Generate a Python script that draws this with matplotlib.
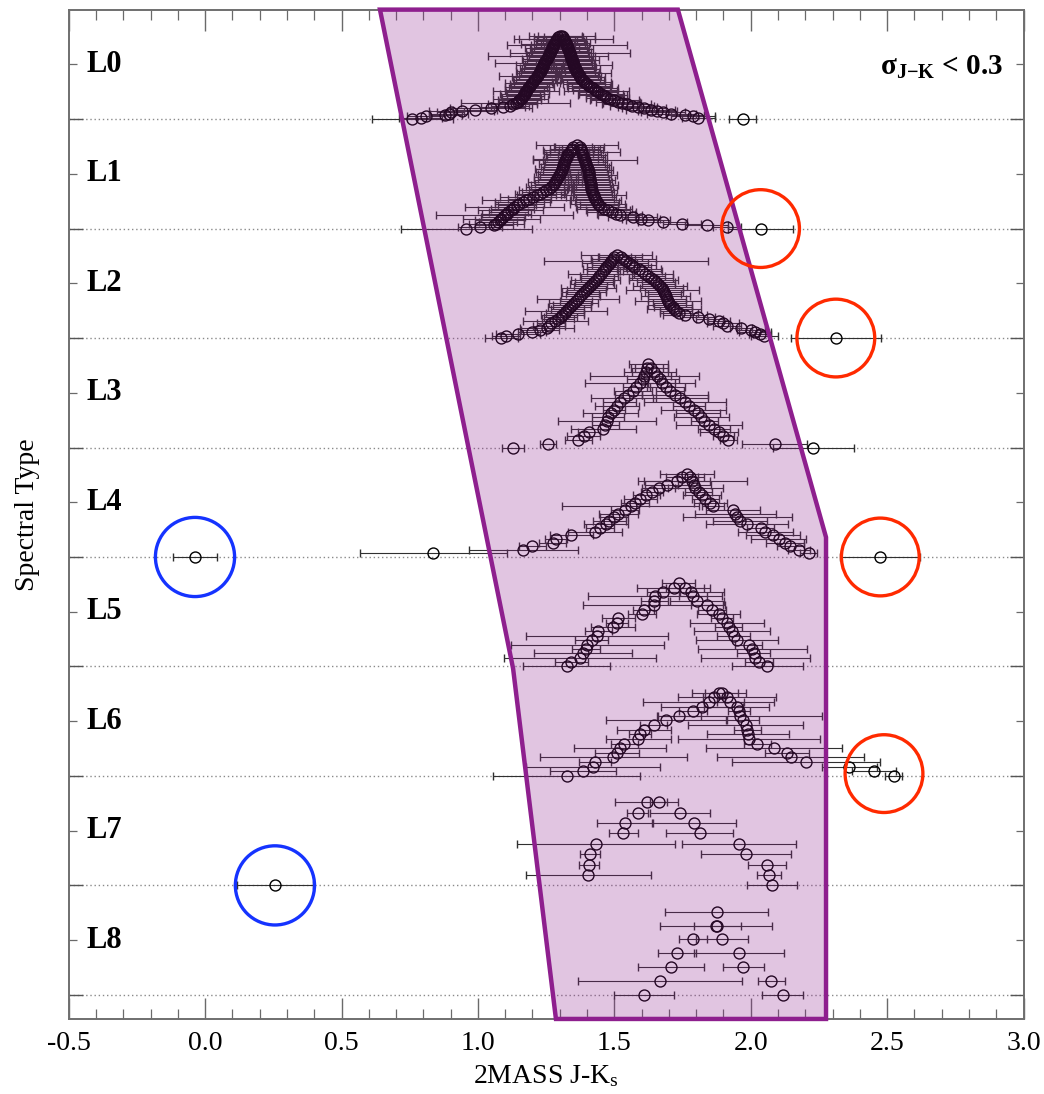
import numpy as np
import matplotlib
matplotlib.use("Agg")
import matplotlib.pyplot as plt
from matplotlib.patches import Polygon
from matplotlib.ticker import MultipleLocator, FormatStrFormatter
from matplotlib.transforms import blended_transform_factory

plt.rcParams['font.family'] = ['Liberation Serif', 'DejaVu Serif']
plt.rcParams['mathtext.fontset'] = 'custom'
plt.rcParams['mathtext.rm'] = 'Liberation Serif'
plt.rcParams['mathtext.it'] = 'Liberation Serif:italic'
plt.rcParams['mathtext.bf'] = 'Liberation Serif:bold'
plt.rcParams['axes.unicode_minus'] = False

# ---------------------------------------------------------------------------
# Data: 2MASS J-Ks colours (and uncertainties) per optical spectral type
# ---------------------------------------------------------------------------
spectral_types = ['L0', 'L1', 'L2', 'L3', 'L4', 'L5', 'L6', 'L7', 'L8']

jk_L0 = [0.76, 0.79, 0.81, 0.88, 0.895, 0.90, 0.94, 0.99, 1.048, 1.093,
         1.117, 1.128, 1.138, 1.146, 1.152, 1.157, 1.160, 1.164, 1.168, 1.171,
         1.174, 1.177, 1.180, 1.184, 1.188, 1.192, 1.196, 1.200, 1.203, 1.207,
         1.211, 1.215, 1.218, 1.222, 1.225, 1.228, 1.230, 1.233, 1.235, 1.238,
         1.240, 1.242, 1.244, 1.247, 1.250, 1.253, 1.256, 1.258, 1.261, 1.264,
         1.266, 1.268, 1.270, 1.272, 1.274, 1.276, 1.279, 1.282, 1.285, 1.287,
         1.291, 1.295,
         1.300, 1.309, 1.311, 1.314, 1.317, 1.319, 1.322, 1.324, 1.326, 1.328,
         1.330, 1.331, 1.333, 1.335, 1.336, 1.338, 1.340, 1.342, 1.343, 1.345,
         1.347, 1.348, 1.350, 1.352, 1.354, 1.356, 1.359, 1.361, 1.364, 1.367,
         1.370, 1.373, 1.376, 1.379, 1.384, 1.389, 1.395, 1.401, 1.408, 1.415,
         1.422, 1.428, 1.435, 1.442, 1.450, 1.458, 1.466, 1.475, 1.485, 1.500,
         1.514, 1.529, 1.546, 1.565, 1.585, 1.608, 1.633, 1.658, 1.678, 1.708,
         1.758, 1.788, 1.808, 1.971]
err_L0 = [0.15, 0.08, 0.07, 0.06, 0.07, 0.05, 0.12, 0.08, 0.15, 0.08,
          0.07, 0.09, 0.20, 0.07, 0.08, 0.10, 0.07, 0.08, 0.06, 0.09,
          0.07, 0.12, 0.08, 0.07, 0.09, 0.07, 0.08, 0.10, 0.07, 0.08,
          0.07, 0.09, 0.14, 0.07, 0.08, 0.07, 0.09, 0.07, 0.08, 0.07,
          0.10, 0.07, 0.18, 0.08, 0.07, 0.09, 0.07, 0.22, 0.08, 0.07,
          0.09, 0.07, 0.08, 0.10, 0.07, 0.08, 0.12, 0.07, 0.08, 0.07,
          0.14, 0.09,
          0.08, 0.12, 0.07, 0.18, 0.08, 0.07, 0.09, 0.07, 0.22, 0.08,
          0.07, 0.09, 0.07, 0.08, 0.22, 0.07, 0.09, 0.08, 0.07, 0.10,
          0.07, 0.08, 0.07, 0.14, 0.08, 0.07, 0.09, 0.07, 0.08, 0.12,
          0.07, 0.08, 0.09, 0.07, 0.08, 0.10, 0.07, 0.09, 0.08, 0.07,
          0.09, 0.08, 0.12, 0.07, 0.08, 0.09, 0.07, 0.08, 0.07, 0.09,
          0.08, 0.07, 0.09, 0.08, 0.07, 0.08, 0.09, 0.07, 0.08, 0.09,
          0.07, 0.08, 0.06, 0.05]

jk_L1 = [0.957, 1.008, 1.058, 1.068, 1.073, 1.080, 1.086, 1.092, 1.098, 1.105,
         1.112, 1.120, 1.127, 1.134, 1.143, 1.152, 1.164, 1.176, 1.189, 1.202,
         1.215, 1.227, 1.240, 1.250, 1.259, 1.268, 1.274, 1.278, 1.283, 1.287,
         1.290, 1.294, 1.297, 1.300, 1.304, 1.307, 1.309, 1.311, 1.313, 1.315,
         1.317, 1.319, 1.322, 1.325, 1.328, 1.331, 1.336, 1.340, 1.345, 1.350,
         1.363,
         1.374, 1.377, 1.379, 1.381, 1.383, 1.385, 1.386, 1.388, 1.392, 1.394,
         1.396, 1.398, 1.401, 1.403, 1.405, 1.406, 1.407, 1.408, 1.409, 1.410,
         1.411, 1.412, 1.413, 1.414, 1.415, 1.416, 1.418, 1.420, 1.422, 1.424,
         1.427, 1.430, 1.433, 1.436, 1.439, 1.444, 1.451, 1.464, 1.478, 1.491,
         1.506, 1.521, 1.568, 1.598, 1.623, 1.678, 1.748, 1.838, 1.913, 2.036]
err_L1 = [0.24, 0.08, 0.07, 0.10, 0.07, 0.09, 0.14, 0.08, 0.25, 0.09,
          0.07, 0.12, 0.08, 0.18, 0.07, 0.09, 0.10, 0.16, 0.08, 0.12,
          0.07, 0.09, 0.08, 0.10, 0.07, 0.09, 0.08, 0.07, 0.10, 0.08,
          0.07, 0.09, 0.07, 0.08, 0.09, 0.07, 0.10, 0.08, 0.07, 0.09,
          0.07, 0.08, 0.12, 0.07, 0.08, 0.09, 0.07, 0.10, 0.08, 0.07,
          0.15,
          0.09, 0.07, 0.08, 0.14, 0.07, 0.09, 0.08, 0.07, 0.19, 0.08,
          0.07, 0.09, 0.08, 0.07, 0.09, 0.08, 0.07, 0.10, 0.08, 0.07,
          0.09, 0.08, 0.07, 0.10, 0.08, 0.07, 0.09, 0.08, 0.07, 0.12,
          0.08, 0.07, 0.09, 0.08, 0.10, 0.07, 0.09, 0.10, 0.08, 0.09,
          0.07, 0.08, 0.09, 0.07, 0.08, 0.09, 0.07, 0.08, 0.05, 0.12]

jk_L2 = [1.086, 1.103, 1.148, 1.198, 1.228, 1.253, 1.261, 1.268, 1.284, 1.294,
         1.303, 1.310, 1.318, 1.324, 1.329, 1.336, 1.344, 1.352, 1.360, 1.368,
         1.376, 1.383, 1.390, 1.398, 1.405, 1.412, 1.419, 1.426, 1.432, 1.439,
         1.445, 1.452, 1.459, 1.466, 1.471, 1.477, 1.483, 1.489, 1.495, 1.500,
         1.508,
         1.523, 1.533, 1.543, 1.553, 1.563, 1.573, 1.591, 1.603, 1.614, 1.624,
         1.634, 1.645, 1.653, 1.661, 1.667, 1.673, 1.677, 1.681, 1.685, 1.689,
         1.693, 1.697, 1.701, 1.705, 1.714, 1.719, 1.726, 1.736, 1.760, 1.808,
         1.848, 1.883, 1.898, 1.913, 1.963, 2.001, 2.016, 2.033, 2.050, 2.312]
err_L2 = [0.06, 0.05, 0.08, 0.05, 0.07, 0.10, 0.06, 0.05, 0.12, 0.06,
          0.06, 0.08, 0.07, 0.15, 0.06, 0.08, 0.07, 0.09, 0.06, 0.15,
          0.07, 0.06, 0.08, 0.07, 0.10, 0.06, 0.08, 0.07, 0.09, 0.06,
          0.07, 0.12, 0.06, 0.08, 0.07, 0.06, 0.10, 0.07, 0.08, 0.06,
          0.13,
          0.08, 0.12, 0.30, 0.07, 0.09, 0.06, 0.08, 0.07, 0.10, 0.06,
          0.08, 0.09, 0.07, 0.06, 0.10, 0.08, 0.135, 0.07, 0.06, 0.09,
          0.07, 0.12, 0.06, 0.08, 0.07, 0.10, 0.06, 0.07, 0.08, 0.06,
          0.05, 0.04, 0.06, 0.05, 0.04, 0.05, 0.06, 0.04, 0.05, 0.165]

jk_L3 = [1.129, 1.258, 1.368, 1.388, 1.408, 1.460, 1.467, 1.472, 1.477, 1.487,
         1.498, 1.509, 1.519, 1.534, 1.551, 1.567, 1.581, 1.594, 1.605, 1.610,
         1.615, 1.620,
         1.625,
         1.636, 1.646, 1.658, 1.666, 1.674, 1.688, 1.704, 1.723, 1.742, 1.759,
         1.774, 1.791, 1.806, 1.819, 1.830, 1.847, 1.865, 1.884, 1.900, 1.918,
         2.088, 2.230]
err_L3 = [0.04, 0.03, 0.05, 0.06, 0.04, 0.12, 0.05, 0.18, 0.06, 0.10,
          0.04, 0.08, 0.06, 0.12, 0.05, 0.07, 0.05, 0.20, 0.06, 0.20,
          0.08, 0.06,
          0.07,
          0.06, 0.08, 0.05, 0.07, 0.05, 0.07, 0.05, 0.12, 0.10, 0.15,
          0.06, 0.12, 0.08, 0.10, 0.05, 0.12, 0.06, 0.07, 0.04, 0.03,
          0.12, 0.15]

jk_L4 = [-0.037, 0.837, 1.166, 1.200, 1.274, 1.286, 1.343, 1.429, 1.448, 1.470,
         1.482, 1.499, 1.515, 1.539, 1.560, 1.576, 1.595, 1.617, 1.637, 1.662,
         1.693, 1.729, 1.748,
         1.766,
         1.778, 1.785, 1.793, 1.797, 1.809, 1.821, 1.834, 1.852, 1.862, 1.935,
         1.944, 1.950, 1.960, 1.987, 2.036, 2.054, 2.082, 2.102, 2.127, 2.145,
         2.176, 2.212, 2.475]
err_L4 = [0.08, 0.27, 0.20, 0.05, 0.05, 0.04, 0.08, 0.10, 0.05, 0.08,
          0.06, 0.05, 0.07, 0.05, 0.25, 0.05, 0.06, 0.05, 0.04, 0.06,
          0.08, 0.12, 0.06,
          0.10,
          0.05, 0.20, 0.06, 0.10, 0.05, 0.07, 0.05, 0.06, 0.04, 0.10,
          0.15, 0.20, 0.10, 0.15, 0.05, 0.10, 0.10, 0.10, 0.07, 0.05,
          0.04, 0.03, 0.147]

jk_L5 = [1.325, 1.343, 1.374, 1.386, 1.396, 1.401, 1.417, 1.435, 1.441, 1.496,
         1.509, 1.515, 1.601, 1.607, 1.644, 1.646, 1.650, 1.680, 1.717,
         1.736,
         1.760, 1.781, 1.788, 1.803, 1.840, 1.858, 1.882, 1.895, 1.913, 1.919,
         1.932, 1.938, 1.950, 1.993, 2.005, 2.011, 2.017, 2.030, 2.060]
err_L5 = [0.16, 0.06, 0.28, 0.18, 0.05, 0.28, 0.06, 0.26, 0.05, 0.08,
          0.04, 0.06, 0.05, 0.04, 0.26, 0.05, 0.245, 0.06, 0.135,
          0.06,
          0.07, 0.12, 0.05, 0.10, 0.06, 0.05, 0.08, 0.04, 0.135, 0.05,
          0.14, 0.06, 0.15, 0.05, 0.20, 0.06, 0.20, 0.05, 0.13]

jk_L6 = [1.325, 1.386, 1.423, 1.429, 1.496, 1.509, 1.521, 1.536, 1.588, 1.595,
         1.609, 1.644, 1.689, 1.738, 1.788, 1.821, 1.846, 1.864, 1.883,
         1.893, 1.913, 1.925, 1.948, 1.956, 1.960, 1.972, 1.981, 1.987, 1.989,
         1.993, 2.024, 2.085, 2.134, 2.147, 2.203, 2.362, 2.453, 2.524]
err_L6 = [0.27, 0.12, 0.245, 0.06, 0.27, 0.08, 0.17, 0.05, 0.12, 0.04,
          0.10, 0.05, 0.22, 0.08, 0.05, 0.15, 0.24, 0.04, 0.10,
          0.06, 0.18, 0.05, 0.12, 0.04, 0.30, 0.06, 0.21, 0.05, 0.15,
          0.26, 0.05, 0.25, 0.08, 0.27, 0.27, 0.10, 0.08, 0.03]

jk_L7 = [0.256, 1.405, 1.408, 1.411, 1.433, 1.533, 1.539, 1.585, 1.619,
         1.662, 1.739, 1.793, 1.813, 1.957, 1.981, 2.060, 2.067, 2.078]
err_L7 = [0.14, 0.23, 0.037, 0.037, 0.29, 0.052, 0.104, 0.04, 0.116,
          0.03, 0.11, 0.154, 0.122, 0.21, 0.165, 0.069, 0.045, 0.09]

jk_L8 = [1.608, 1.668, 1.708, 1.730, 1.788, 1.874, 1.875,
         1.878, 1.896, 1.958, 1.973, 2.076, 2.118]
err_L8 = [0.11, 0.30, 0.12, 0.07, 0.05, 0.205, 0.19,
          0.085, 0.095, 0.165, 0.075, 0.05, 0.075]

jk_by_type = [jk_L0, jk_L1, jk_L2, jk_L3, jk_L4, jk_L5, jk_L6, jk_L7, jk_L8]
err_by_type = [err_L0, err_L1, err_L2, err_L3, err_L4, err_L5, err_L6, err_L7, err_L8]

# Colour-selection region: J-Ks edges and spectral-type rows of its corners
region_jk = [0.641, 1.733, 2.276, 2.276, 1.286, 1.129]
region_row = [-1.0, -1.0, 3.82, 8.22, 8.22, 5.02]

# Flagged objects: (spectral type index, which end of the sorted colours)
red_flags = [(1, 'high'), (2, 'high'), (4, 'high'), (6, 'high2')]
blue_flags = [(4, 'low'), (7, 'low')]

PEAK = 0.76          # height of each rank pyramid, in rows
PURPLE = '#8E1F8E'

# ---------------------------------------------------------------------------
fig = plt.figure(figsize=(10.44, 10.94), dpi=100)
ax = fig.add_axes([0.0658, 0.0686, 0.9146, 0.9226])

positions = []
for row, (vals, errs) in enumerate(zip(jk_by_type, err_by_type)):
    vals = np.asarray(vals, float)
    errs = np.asarray(errs, float)
    order = np.argsort(vals, kind='stable')
    vals, errs = vals[order], errs[order]
    n = len(vals)
    idx = np.arange(n)
    level = np.minimum(idx, n - 1 - idx)
    step = PEAK / ((n - 1) // 2)
    ypos = row - level * step
    positions.append((vals, ypos))
    ax.errorbar(vals, ypos, xerr=errs, fmt='o', ms=7.9, mfc='none',
                mec='black', mew=1.0, ecolor='#303030', elinewidth=0.8,
                capsize=2.6, capthick=0.8, zorder=2)

# dotted baseline for every spectral type
for row in range(len(spectral_types)):
    ax.axhline(row, color='#8a8a8a', lw=1.0, ls=(0, (1, 2)), zorder=1)

# shaded selection region, overlaid on the points
poly = Polygon(list(zip(region_jk, region_row)), closed=True,
               facecolor=matplotlib.colors.to_rgba(PURPLE, 0.26),
               edgecolor=PURPLE, lw=3.2, zorder=3, clip_on=False,
               joinstyle='miter')
ax.add_patch(poly)


def flag_position(row, which):
    vals, ypos = positions[row]
    if which == 'high':
        return vals[-1], ypos[-1]
    if which == 'low':
        return vals[0], ypos[0]
    return vals[-2:].mean(), ypos[-2:].mean()


for row, which in red_flags:
    x, y = flag_position(row, which)
    ax.scatter([x], [y], s=56 ** 2, facecolors='none', edgecolors='#FF2A00',
               linewidths=2.4, zorder=5)
for row, which in blue_flags:
    x, y = flag_position(row, which)
    ax.scatter([x], [y], s=57 ** 2, facecolors='none', edgecolors='#1533FF',
               linewidths=2.4, zorder=5)

# spectral type labels
trans = blended_transform_factory(ax.transAxes, ax.transData)
for row, name in enumerate(spectral_types):
    ax.text(0.019, row - 0.5, name, transform=trans, ha='left', va='center',
            fontsize=22, fontweight='bold', color='black')

ax.text(0.979, -0.47, r'σ$_{\mathbf{J{-}K}}$ < 0.3', transform=trans,
        ha='right', va='center', fontsize=21, fontweight='bold')

# axes setup
ax.set_xlim(-0.5, 3.0)
ax.set_ylim(8.22, -1.0)
ax.xaxis.set_major_locator(MultipleLocator(0.5))
ax.xaxis.set_minor_locator(MultipleLocator(0.1))
ax.xaxis.set_major_formatter(FormatStrFormatter('%.1f'))
ax.set_yticks(range(len(spectral_types)))
ax.set_yticks(np.arange(-0.5, len(spectral_types) - 0.5, 1.0), minor=True)
ax.set_yticklabels([])

ax.tick_params(axis='x', which='major', direction='in', length=15, width=1.0,
               color='#6a6a6a', top=True, bottom=True, labelsize=20, pad=9)
ax.tick_params(axis='x', which='minor', direction='in', length=7, width=0.9,
               color='#6a6a6a', top=True, bottom=True)
ax.tick_params(axis='y', which='major', direction='in', length=10, width=1.0,
               color='#555555', left=True, right=True)
ax.tick_params(axis='y', which='minor', direction='in', length=6, width=0.9,
               color='#6a6a6a', left=True, right=True)
for sp in ax.spines.values():
    sp.set_color('#6f6f6f')
    sp.set_linewidth(1.4)

ax.set_xlabel('2MASS J-K$_{\\rm s}$', fontsize=20, labelpad=5)
ax.set_ylabel('Spectral Type', fontsize=20, va='center')
ax.yaxis.set_label_coords(-0.043, 0.5)

fig.savefig('out.png', dpi=100, facecolor='white')
